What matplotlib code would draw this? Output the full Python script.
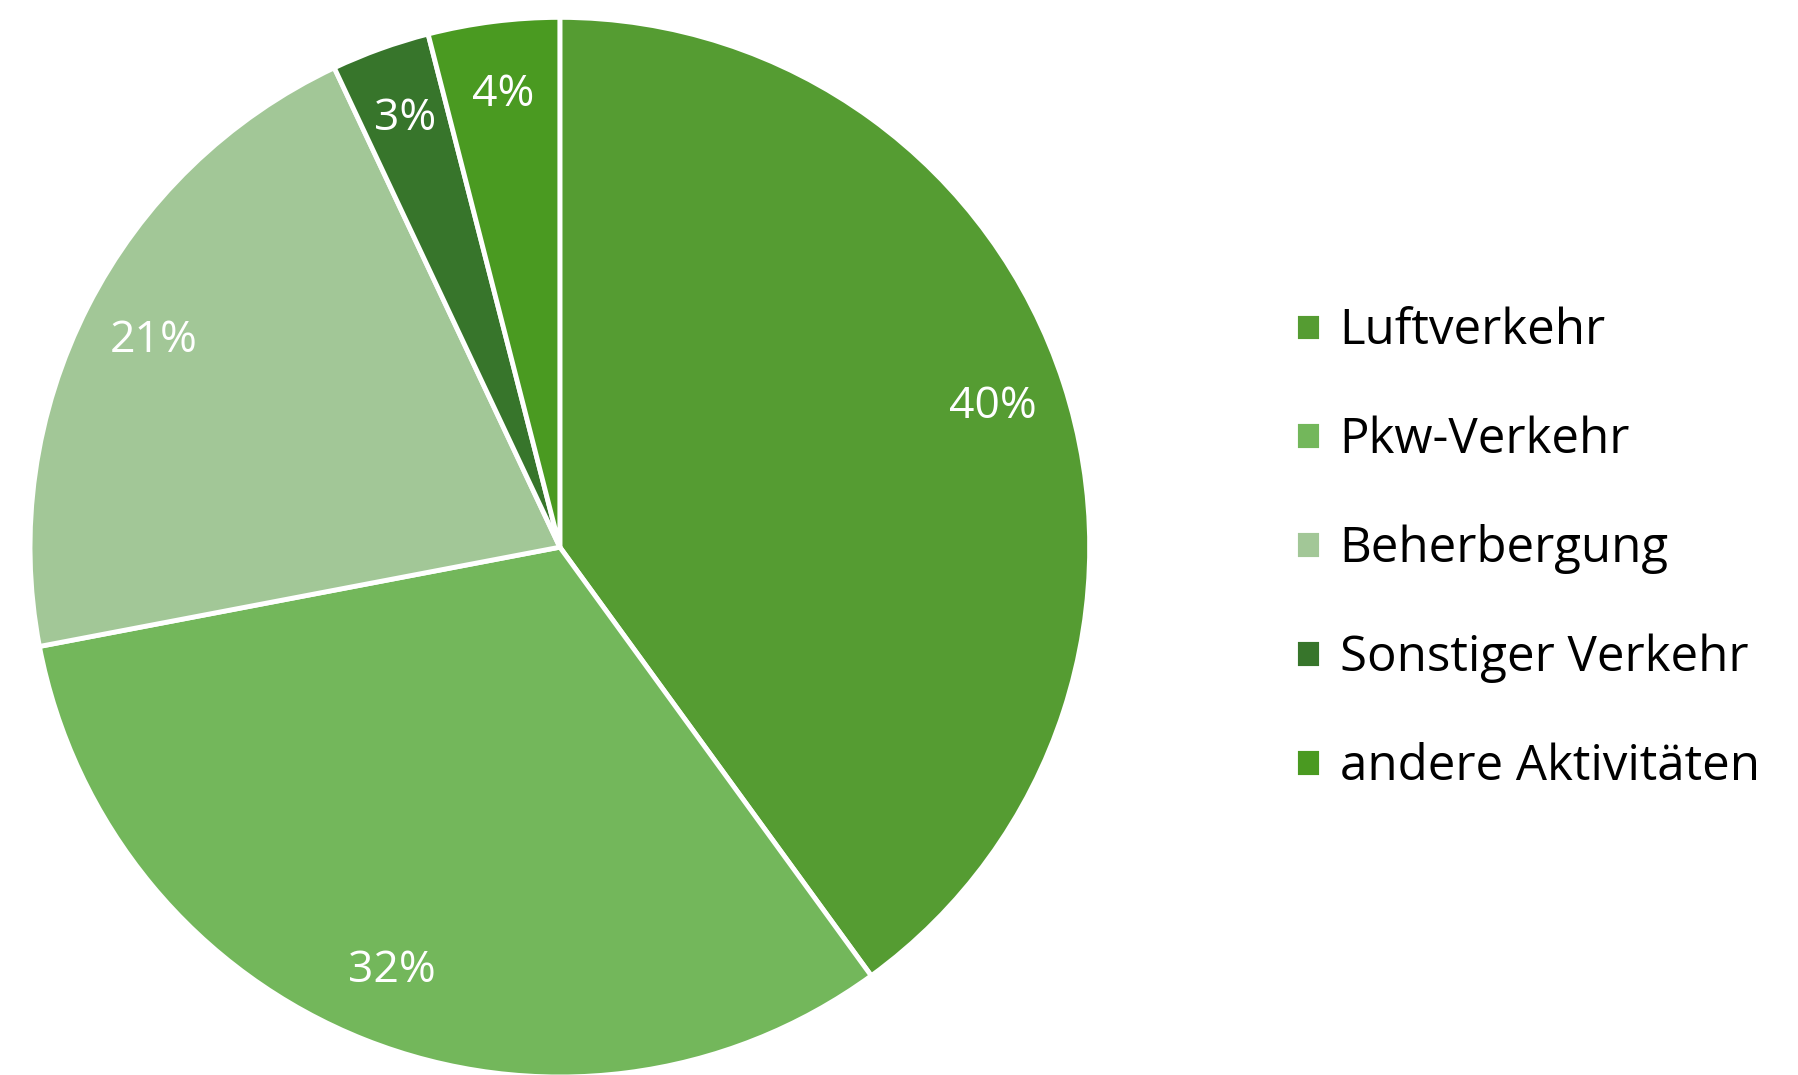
import matplotlib
matplotlib.use("Agg")
import matplotlib.pyplot as plt

# Anteile der Emissionen (Prozent)
categories = ["Luftverkehr", "Pkw-Verkehr", "Beherbergung", "Sonstiger Verkehr", "andere Aktivitäten"]
shares = [40, 32, 21, 3, 4]
colors = ["#559c32", "#73b75b", "#a2c797", "#37752b", "#4a9a21"]

plt.rcParams["font.family"] = ["Open Sans", "DejaVu Sans"]

fig = plt.figure(figsize=(17.99, 10.75), dpi=100)
ax = fig.add_axes([0.0167, -0.002, 0.589, 0.986])

wedges, texts, autotexts = ax.pie(
    shares, colors=colors, startangle=90, counterclock=False,
    autopct="%1.0f%%", pctdistance=0.86,
    wedgeprops=dict(edgecolor="white", linewidth=3.5),
    textprops=dict(color="white", fontsize=32),
)
ax.set_xlim(-1, 1)
ax.set_ylim(-1, 1)
ax.set_aspect("equal")

fig.legend(wedges, categories, loc="center left", bbox_to_anchor=(0.72, 0.489),
           frameon=False, fontsize=35.5, handlelength=0.52, handleheight=0.52,
           handletextpad=0.38, labelspacing=1.2, borderpad=0, borderaxespad=0)

fig.savefig("out.png", dpi=100, facecolor="white")
